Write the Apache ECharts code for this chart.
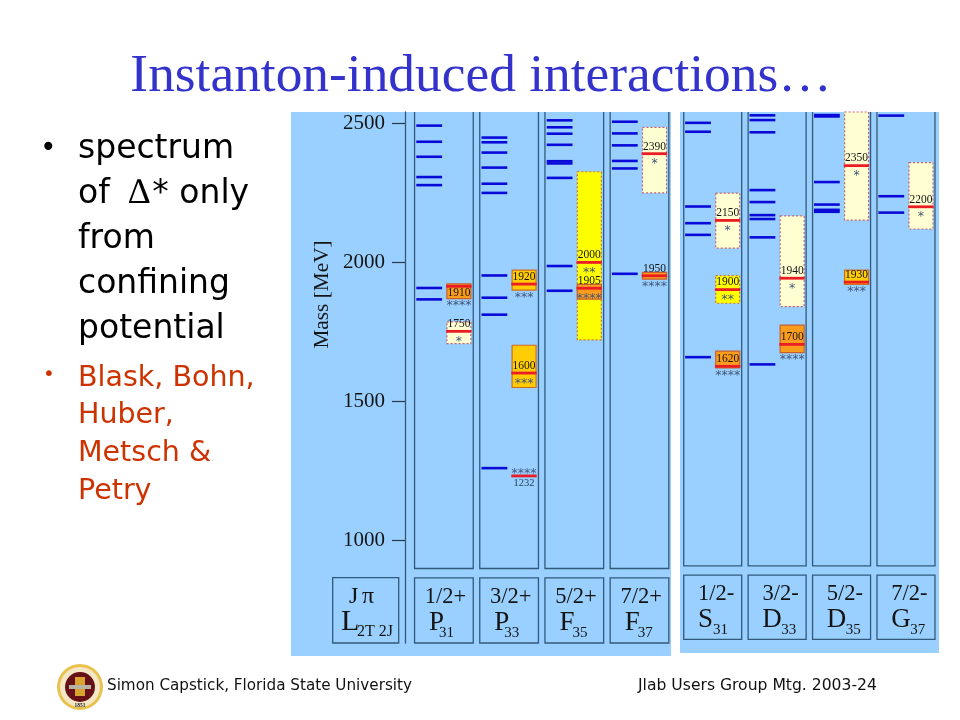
<!DOCTYPE html>
<html><head><meta charset="utf-8">
<style>html,body{margin:0;padding:0;background:#fff}#c{width:960px;height:720px}</style>
<script src="https://cdn.jsdelivr.net/npm/echarts@6/dist/echarts.min.js"></script>
</head><body><div id="c"></div>
<script>
// ---- data ----
const massTicks = [1000, 1500, 2000, 2500];
const catsLeft = ['P31', 'P33', 'F35', 'F37'];
const catsRight = ['S31', 'D33', 'D35', 'G37'];
const spinLeft = ['1/2+', '3/2+', '5/2+', '7/2+'];
const spinRight = ['1/2-', '3/2-', '5/2-', '7/2-'];
const waveLeft = ['P', 'P', 'F', 'F'];
const waveRight = ['S', 'D', 'D', 'G'];
const subLeft = ['31', '33', '35', '37'];
const subRight = ['31', '33', '35', '37'];

const levelsP31 = [2492, 2434, 2380, 2307, 2278, 1908, 1867];
const levelsP33 = [2449, 2432, 2395, 2341, 2283, 2250, 1953, 1873, 1812, 1260];
const levelsF35 = [2511, 2486, 2463, 2423, 2364, 2356, 2304, 1987, 1898];
const levelsF37 = [2506, 2464, 2421, 2365, 2338, 1959];
const levelsS31 = [2502, 2470, 2201, 2141, 2099, 1659];
const levelsD33 = [2529, 2512, 2468, 2260, 2217, 2170, 2156, 2090, 1633];
const levelsD35 = [2530, 2525, 2289, 2208, 2189, 2182];
const levelsG37 = [2528, 2238, 2179];

const resLabelLeft = ['1910', '1750', '1920', '1600', '1232', '2000', '1905', '2390', '1950'];
const resColLeft   = [0, 0, 1, 1, 1, 2, 2, 3, 3];
const resMassLeft  = [1914, 1752, 1922, 1602, 1232, 2000, 1907, 2391, 1952];
const resLowLeft   = [1870, 1708, 1900, 1550, 1232, 1721, 1868, 2250, 1940];
const resHighLeft  = [1923, 1786, 1972, 1702, 1232, 2326, 1921, 2486, 1964];
const resStarsLeft = [4, 1, 3, 3, 4, 2, 4, 1, 4];

const resLabelRight = ['2150', '1900', '1620', '1940', '1700', '2350', '1930', '2200'];
const resColRight   = [0, 0, 0, 1, 1, 2, 2, 3];
const resMassRight  = [2151, 1902, 1626, 1943, 1705, 2348, 1929, 2200];
const resLowRight   = [2051, 1853, 1620, 1841, 1675, 2152, 1921, 2120];
const resHighRight  = [2249, 1952, 1681, 2167, 1774, 2541, 1972, 2359];
const resStarsRight = [1, 2, 4, 1, 4, 1, 3, 1];

const massMax = 2541, massMinLeft = 631, massMinRight = 644;
const panelBottomLeft = 899, footTopLeft = 865, footBottomLeft = 631;
const panelBottomRight = 908, footTopRight = 875, footBottomRight = 644;

// ---- style ----
const SERIF = '"Liberation Serif"';
const FRAME = '#33597a', BLUE = '#0a0ad8', RED = '#ea1c24', INK = '#141414', STAR = '#46587c';
const FILL = {4: '#fb9c1c', 3: '#ffcc05', 2: '#ffff00', 1: '#ffffd2'};
const EDGE = {4: '#c8602e', 3: '#d26a22', 2: '#c8742c', 1: '#c9606e'};
const SUBX = {P: 10, F: 13, S: 15, D: 19, G: 19};

function panelRender(spin, wave, sub, panelBottom, footTop, footBottom, spinDx) {
  return function (params, api) {
    const i = api.value(0);
    const c = api.coord([i, massMax]);
    const half = api.size([1, 0])[0] * 0.45;
    const yTop = c[1];
    const yBot = api.coord([i, panelBottom])[1];
    const fTop = api.coord([i, footTop])[1];
    const fBot = api.coord([i, footBottom])[1];
    const L = c[0] - half, R = c[0] + half;
    const lineStyle = {fill: null, stroke: FRAME, lineWidth: 1.3};
    const txt = (text, x, y, size, align) => ({type: 'text', style: {
      text, x, y, fill: INK, font: size + 'px ' + SERIF, align: align || 'left', verticalAlign: 'bottom'}});
    return {type: 'group', children: [
      {type: 'polyline', shape: {points: [[L, yTop], [L, yBot], [R, yBot], [R, yTop]]}, style: lineStyle},
      {type: 'rect', shape: {x: L, y: fTop, width: R - L, height: fBot - fTop}, style: lineStyle},
      txt(spin[i], c[0] + spinDx, fTop + 30.5, 22.5, 'center'),
      txt(wave[i], c[0] - 14.8, fTop + 58, 27),
      txt(sub[i], c[0] - 14.8 + SUBX[wave[i]], fTop + 62.5, 15)
    ]};
  };
}

function levelRender(params, api) {
  const p = api.coord([api.value(0), api.value(1)]);
  return {type: 'rect', shape: {x: p[0] - 27.6, y: p[1] - 1.3, width: 25.8, height: 2.6},
    style: {fill: BLUE}};
}

function resRender(params, api) {
  const col = api.value(0), mass = api.value(1), low = api.value(2), high = api.value(3);
  const stars = api.value(4), label = api.value(5);
  const p = api.coord([col, mass]);
  const yLow = api.coord([col, low])[1], yHigh = api.coord([col, high])[1];
  const children = [];
  if (high > low) {
    children.push({type: 'rect', shape: {x: p[0] + 3, y: yHigh, width: 24, height: yLow - yHigh},
      style: {fill: FILL[stars], stroke: EDGE[stars], lineWidth: 1.2, lineDash: stars <= 2 ? [2, 2] : null}});
  }
  children.push({type: 'rect', shape: {x: p[0] + 2.2, y: p[1] - 1.4, width: 25.4, height: 2.8}, style: {fill: RED}});
  const cx = p[0] + 15;
  const below = label === '1910' || label === '1232';
  children.push({type: 'text', style: {text: label, x: cx, y: below ? p[1] + 7 : p[1] - 7.2,
    fill: label === '1232' ? '#24405e' : INK, font: (label === '1232' ? 10.5 : 11.5) + 'px ' + SERIF,
    align: 'center', verticalAlign: 'middle'}});
  let sy;
  if (label === '1232') sy = p[1] - 5;
  else if (!below && yLow - p[1] >= 10) sy = p[1] + 7.7;
  else sy = yLow + 5;
  children.push({type: 'text', style: {text: '*'.repeat(stars), x: cx, y: sy + 2.5,
    fill: STAR, font: '12.5px "DejaVu Sans"', align: 'center', verticalAlign: 'middle'}});
  return {type: 'group', children};
}

const levelRowsLeft = [levelsP31, levelsP33, levelsF35, levelsF37]
  .flatMap((a, c) => a.map(m => [c, m]));
const levelRowsRight = [levelsS31, levelsD33, levelsD35, levelsG37]
  .flatMap((a, c) => a.map(m => [c, m]));
const resRowsLeft = resLabelLeft.map((l, i) =>
  [resColLeft[i], resMassLeft[i], resLowLeft[i], resHighLeft[i], resStarsLeft[i], l]);
const resRowsRight = resLabelRight.map((l, i) =>
  [resColRight[i], resMassRight[i], resLowRight[i], resHighRight[i], resStarsRight[i], l]);

const slideText = (text, x, y, size, fill, font) => ({type: 'text', z: 5, style: {
  text, x, y, fill, font: size + 'px ' + (font || '"DejaVu Sans"'), verticalAlign: 'middle'}});

const bulletBlack = ['spectrum', 'from', 'confining', 'potential'];
const bulletBlackY = [149, 239, 284, 329];
const bulletRed = ['Blask, Bohn,', 'Huber,', 'Metsch &', 'Petry'];
const bulletRedY = [379, 416, 454, 492];
const BLACK = '#000', RUST = '#cc3300';

const graphic = [
  {type: 'rect', z: -10, shape: {x: 291, y: 112, width: 380, height: 544}, style: {fill: '#99d0ff'}},
  {type: 'rect', z: -10, shape: {x: 680, y: 112, width: 259, height: 541}, style: {fill: '#99d0ff'}},
  {type: 'rect', z: 3, shape: {x: 332.7, y: 577.7, width: 66, height: 65.3}, style: {fill: null, stroke: FRAME, lineWidth: 1.3}},
  slideText('J', 349, 597, 24, INK, SERIF),
  slideText('π', 362, 597, 24, INK, SERIF),
  slideText('L', 341, 622, 30, INK, SERIF),
  slideText('2T 2J', 357, 632, 16, INK, SERIF),
  slideText('•', 40, 149, 28, BLACK),
  slideText('•', 43, 375, 20, RUST),
  ...bulletBlack.map((t, i) => slideText(t, 78, bulletBlackY[i], 33, BLACK)),
  {type: 'text', z: 5, style: {x: 78, y: 194, verticalAlign: 'middle', fill: BLACK,
    text: 'of {d|∆}* only', font: '33px "DejaVu Sans"',
    rich: {d: {font: '36px ' + SERIF, fill: BLACK, padding: [0, 2, 0, 8]}}}},
  ...bulletRed.map((t, i) => slideText(t, 78, bulletRedY[i], 28.5, RUST)),
  slideText('Simon Capstick, Florida State University', 107, 686, 15.2, '#111'),
  slideText('Jlab Users Group Mtg. 2003-24', 638, 686, 15.6, '#111'),
  {type: 'circle', z: 5, shape: {cx: 80, cy: 687, r: 23}, style: {fill: '#e8c24f'}},
  {type: 'circle', z: 5, shape: {cx: 80, cy: 687, r: 20}, style: {fill: '#f4e8c4'}},
  {type: 'circle', z: 5, shape: {cx: 80, cy: 687, r: 15}, style: {fill: '#661018'}},
  {type: 'rect', z: 6, shape: {x: 75, y: 677, width: 10, height: 19}, style: {fill: '#d9a32f'}},
  {type: 'rect', z: 6, shape: {x: 69, y: 685, width: 22, height: 4}, style: {fill: '#b9b4a4'}},
  {type: 'text', z: 6, style: {text: '1851', x: 80, y: 705.5, fill: '#222', font: 'bold 5.5px ' + SERIF, align: 'center', verticalAlign: 'middle'}}
];

const chart = echarts.init(document.getElementById('c'), null, {renderer: 'canvas'});
chart.setOption({
  animation: false,
  backgroundColor: '#fff',
  title: {text: 'Instanton-induced interactions…', left: 476, top: 45,
    textAlign: 'center',
    textStyle: {fontFamily: 'Liberation Serif', fontSize: 53.4, fontWeight: 'normal', color: '#3333cc'}},
  graphic,
  grid: [
    {left: 411.3, width: 260.8, top: 112, height: 531},
    {left: 680.5, width: 257.7, top: 112, height: 527.3}
  ],
  xAxis: [
    {type: 'category', gridIndex: 0, data: catsLeft, show: false},
    {type: 'category', gridIndex: 1, data: catsRight, show: false}
  ],
  yAxis: [
    {type: 'value', gridIndex: 0, min: massMinLeft, max: massMax, offset: 6.3,
      name: 'Mass [MeV]', nameLocation: 'middle', nameGap: 72.5,
      nameTextStyle: {fontFamily: 'Liberation Serif', fontSize: 21.3, color: INK, padding: [0, 0, 0, 166]},
      axisLine: {show: true, lineStyle: {color: FRAME, width: 1.3}},
      axisTick: {show: true, length: 13, customValues: massTicks, lineStyle: {color: '#2b3a4a', width: 1.2}},
      axisLabel: {customValues: massTicks, margin: 20, formatter: v => String(v),
        fontFamily: 'Liberation Serif', fontSize: 21, color: INK},
      splitLine: {show: false}},
    {type: 'value', gridIndex: 1, min: massMinRight, max: massMax, show: false, splitLine: {show: false}}
  ],
  series: [
    {type: 'custom', xAxisIndex: 0, yAxisIndex: 0, clip: false, silent: true, data: catsLeft.map((c, i) => [i, massMax]),
      renderItem: panelRender(spinLeft, waveLeft, subLeft, panelBottomLeft, footTopLeft, footBottomLeft, 1.6)},
    {type: 'custom', xAxisIndex: 1, yAxisIndex: 1, clip: false, silent: true, data: catsRight.map((c, i) => [i, massMax]),
      renderItem: panelRender(spinRight, waveRight, subRight, panelBottomRight, footTopRight, footBottomRight, 3.4)},
    {type: 'custom', xAxisIndex: 0, yAxisIndex: 0, silent: true, data: levelRowsLeft, renderItem: levelRender},
    {type: 'custom', xAxisIndex: 1, yAxisIndex: 1, silent: true, data: levelRowsRight, renderItem: levelRender},
    {type: 'custom', xAxisIndex: 0, yAxisIndex: 0, silent: true, data: resRowsLeft, renderItem: resRender,
      encode: {x: 0, y: 1}, dimensions: ['c', 'm', 'lo', 'hi', 's', {name: 'l', type: 'ordinal'}]},
    {type: 'custom', xAxisIndex: 1, yAxisIndex: 1, silent: true, data: resRowsRight, renderItem: resRender,
      encode: {x: 0, y: 1}, dimensions: ['c', 'm', 'lo', 'hi', 's', {name: 'l', type: 'ordinal'}]}
  ]
});
</script></body></html>
